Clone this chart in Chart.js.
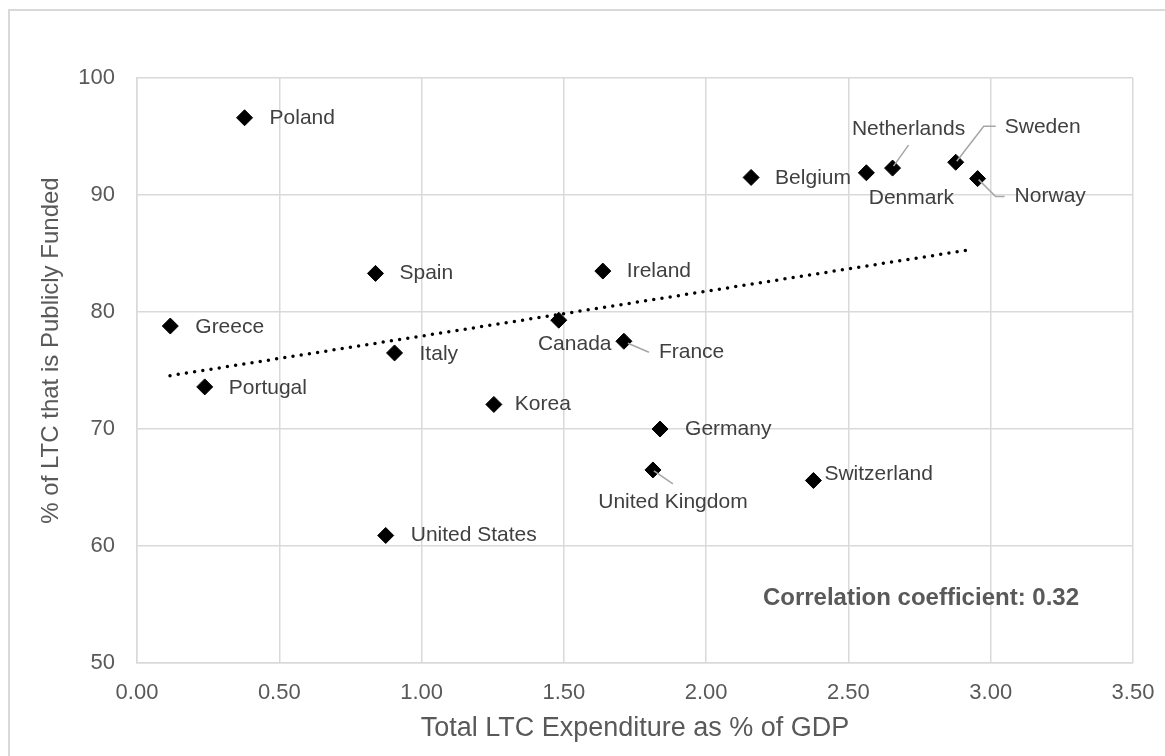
<!DOCTYPE html>
<html>
<head>
<meta charset="utf-8">
<script src="https://cdn.jsdelivr.net/npm/chart.js@4.4.0/dist/chart.umd.min.js"></script>
<style>
  html, body { margin: 0; padding: 0; background: #fff; }
  #wrap { width: 1165px; height: 756px; }
</style>
</head>
<body>
<div id="wrap"><canvas id="chart" width="1165" height="756"></canvas></div>
<script>
// countries and values
const countries = ["Poland", "Spain", "Greece", "Italy", "Portugal", "Korea", "United States",
  "Canada", "France", "Ireland", "Germany", "United Kingdom", "Switzerland",
  "Belgium", "Denmark", "Netherlands", "Sweden", "Norway"];
const ltcSpend = [0.378, 0.838, 0.117, 0.905, 0.238, 1.254, 0.874,
  1.482, 1.711, 1.637, 1.838, 1.813, 2.377,
  2.158, 2.563, 2.655, 2.877, 2.954];
const publicShare = [96.6, 83.3, 78.8, 76.5, 73.6, 72.1, 60.9,
  79.3, 77.5, 83.5, 70.0, 66.5, 65.6,
  91.5, 91.9, 92.3, 92.8, 91.4];

// linear trend line end points
const trendX = [0.116, 2.937];
const trendY = [74.56, 85.36];

const xTicks = [0, 0.5, 1, 1.5, 2, 2.5, 3, 3.5];
const yTicks = [50, 60, 70, 80, 90, 100];
const xTitle = "Total LTC Expenditure as % of GDP";
const yTitle = "% of LTC that is Publicly Funded";
const corrText = "Correlation coefficient: 0.32";

/* label placement, offsets from the marker in pixels */
const placement = {
  "Poland": { dx: 25, dy: 0 },
  "Spain": { dx: 24, dy: 0 },
  "Greece": { dx: 25, dy: 1 },
  "Italy": { dx: 25, dy: 1 },
  "Portugal": { dx: 24, dy: 1 },
  "Korea": { dx: 21, dy: 0 },
  "United States": { dx: 25, dy: 0 },
  "Canada": { dx: 16, dy: 24, align: "center" },
  "France": { dx: 35, dy: 11, leader: [[4, 2], [25, 11]] },
  "Ireland": { dx: 24, dy: 0 },
  "Germany": { dx: 25, dy: 0 },
  "United Kingdom": { dx: 20, dy: 32, align: "center", leader: [[1, 1], [20, 14]] },
  "Switzerland": { dx: 11, dy: -6 },
  "Belgium": { dx: 24, dy: 1 },
  "Denmark": { dx: 45, dy: 25, align: "center" },
  "Netherlands": { dx: 16, dy: -39, align: "center", leader: [[1, -2], [16, -23]] },
  "Sweden": { dx: 49, dy: -35, leader: [[1, -1], [28, -36], [40, -36]] },
  "Norway": { dx: 37, dy: 18, leader: [[1, 1], [18, 18], [27, 18]] }
};

const FONT = "'Liberation Sans', Arial, sans-serif";

/* gray frame around the chart (only left/top visible) + y title */
const framePlugin = {
  id: "frame",
  beforeDraw(c) {
    const ctx = c.ctx;
    ctx.save();
    ctx.fillStyle = "#fff";
    ctx.fillRect(0, 0, c.width, c.height);
    ctx.strokeStyle = "#d9d9d9";
    ctx.lineWidth = 2;
    ctx.beginPath();
    ctx.moveTo(9, c.height + 2);
    ctx.lineTo(9, 10);
    ctx.lineTo(c.width + 2, 10);
    ctx.stroke();

    // y axis title sits a bit above the plot centre in the original
    const area = c.chartArea;
    ctx.translate(51, (area.top + area.bottom) / 2 - 20);
    ctx.rotate(-Math.PI / 2);
    ctx.font = "24px " + FONT;
    ctx.fillStyle = "#595959";
    ctx.textAlign = "center";
    ctx.textBaseline = "middle";
    ctx.fillText(yTitle, 0, 0);
    ctx.restore();
  }
};

/* country names, leader lines and correlation note */
const labelPlugin = {
  id: "labels",
  afterDatasetsDraw(c) {
    const ctx = c.ctx;
    const meta = c.getDatasetMeta(1);
    ctx.save();
    ctx.font = "21px " + FONT;
    ctx.textBaseline = "middle";
    meta.data.forEach((pt, i) => {
      const p = placement[countries[i]] || { dx: 24, dy: 0 };
      if (p.leader) {
        ctx.strokeStyle = "#a6a6a6";
        ctx.lineWidth = 1.5;
        ctx.beginPath();
        p.leader.forEach((l, j) => {
          if (j === 0) ctx.moveTo(pt.x + l[0], pt.y + l[1]);
          else ctx.lineTo(pt.x + l[0], pt.y + l[1]);
        });
        ctx.stroke();
      }
      ctx.fillStyle = "#404040";
      ctx.textAlign = p.align || "left";
      ctx.fillText(countries[i], pt.x + p.dx, pt.y + p.dy);
    });

    const area = c.chartArea;
    ctx.font = "bold 24px " + FONT;
    ctx.fillStyle = "#595959";
    ctx.textAlign = "right";
    ctx.fillText(corrText, area.right - 54, area.bottom - 65);
    ctx.restore();
  }
};

const ctx = document.getElementById("chart").getContext("2d");
const chart = new Chart(ctx, {
  type: "scatter",
  data: {
    datasets: [{
      type: "line",
      label: "Trend",
      data: trendX.map((x, i) => ({ x: x, y: trendY[i] })),
      borderColor: "#000",
      borderWidth: 3.5,
      borderDash: [0, 8.3],
      borderCapStyle: "round",
      pointRadius: 0,
      fill: false,
      order: 2
    }, {
      label: "Countries",
      data: ltcSpend.map((x, i) => ({ x: x, y: publicShare[i] })),
      pointStyle: "rectRot",
      pointRadius: 8,
      pointHoverRadius: 8,
      backgroundColor: "#000",
      borderColor: "#000",
      borderWidth: 1,
      order: 1
    }]
  },
  options: {
    responsive: false,
    animation: false,
    devicePixelRatio: 1,
    layout: { padding: { top: 78, right: 32, bottom: 0, left: 0 } },
    plugins: {
      legend: { display: false },
      tooltip: { enabled: false }
    },
    scales: {
      x: {
        type: "linear",
        min: 0,
        max: 3.5,
        afterBuildTicks: s => { s.ticks = xTicks.map(v => ({ value: v })); },
        afterFit: s => { s.height = 93; s.paddingLeft = 0; s.paddingRight = 0; },
        ticks: {
          callback: v => v.toFixed(2),
          color: "#595959",
          font: { family: FONT, size: 22 },
          padding: 17
        },
        grid: { color: "#d9d9d9", lineWidth: 1.5, drawTicks: false },
        border: { color: "#d9d9d9", width: 1.5 },
        title: {
          display: true,
          text: xTitle,
          color: "#595959",
          font: { family: FONT, size: 27 },
          padding: { top: 0, bottom: 11 }
        }
      },
      y: {
        min: 50,
        max: 100,
        afterBuildTicks: s => { s.ticks = yTicks.map(v => ({ value: v })); },
        afterFit: s => { s.width = 137; s.paddingTop = 0; s.paddingBottom = 0; },
        ticks: {
          color: "#595959",
          font: { family: FONT, size: 22 },
          padding: 22
        },
        grid: { color: "#d9d9d9", lineWidth: 1.5, drawTicks: false },
        border: { color: "#d9d9d9", width: 1.5 }
      }
    }
  },
  plugins: [framePlugin, labelPlugin]
});
</script>
</body>
</html>
